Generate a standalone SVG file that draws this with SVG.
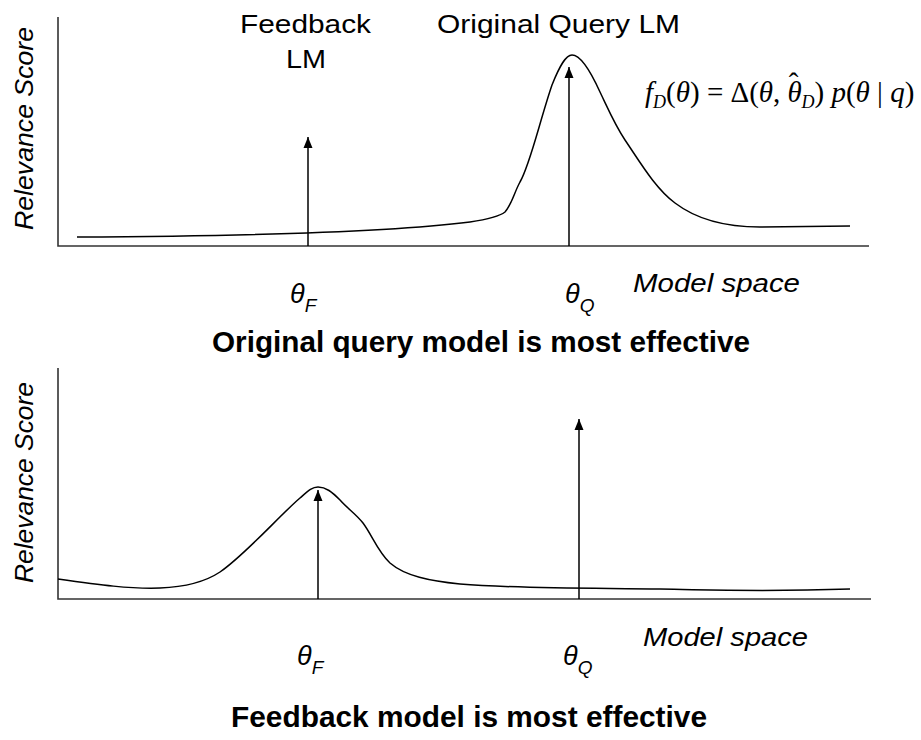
<svg xmlns="http://www.w3.org/2000/svg" width="921" height="740" viewBox="0 0 921 740">
<defs>
<marker id="ah" markerUnits="userSpaceOnUse" markerWidth="12" markerHeight="10" refX="11" refY="5" orient="auto" viewBox="0 0 12 10">
<path d="M0 0.5 L11 5 L0 9.5 Z" fill="#000"/>
</marker>
<style>
.ax{stroke:#333;stroke-width:1.6;fill:none}
.cv{stroke:#000;stroke-width:1.5;fill:none}
.ar{stroke:#000;stroke-width:1.5;fill:none}
.lbl{font-family:"Liberation Sans",Arial,sans-serif;fill:#000}
.it{font-style:italic}
.bd{font-weight:bold}
.fm{font-family:"Liberation Serif","Times New Roman",serif;fill:#000}
</style>
</defs>
<rect width="921" height="740" fill="#fff"/>

<g id="top-panel">
<g id="top-axes">
<path class="ax" d="M58 17 V246 H869"/>
</g>
<g id="top-curve">
<path class="cv" d="M77 237 C250 236,400 231,470 222 C490 219,500 216,505 212 C512 204,514 193,520 182 C530 165,540 120,552 85 C560 65,566 55,572 55 C580 55,590 70,600 92 C610 113,615 125,625 140 C640 162,655 188,675 203 C700 222,730 227,760 227 L850 226"/>
</g>
<text class="lbl it" font-size="26" transform="translate(33,128.5) rotate(-90)" text-anchor="middle" textLength="203" lengthAdjust="spacingAndGlyphs">Relevance Score</text>
<g id="top-feedback-lm">
<text class="lbl" font-size="26" x="240" y="33" textLength="131" lengthAdjust="spacingAndGlyphs">Feedback</text>
<text class="lbl" font-size="26" x="286" y="68" textLength="40" lengthAdjust="spacingAndGlyphs">LM</text>
</g>
<g id="top-query-lm">
<text class="lbl" font-size="26" x="437" y="33" textLength="243" lengthAdjust="spacingAndGlyphs">Original Query LM</text>
</g>
<g id="top-formula">
<text class="fm" font-size="29" x="645" y="102"><tspan font-style="italic">f</tspan><tspan font-style="italic" font-size="18" dy="6">D</tspan><tspan dy="-6">(</tspan><tspan font-style="italic">θ</tspan><tspan>) = Δ(</tspan><tspan font-style="italic">θ</tspan><tspan>, </tspan><tspan font-style="italic">θ</tspan><tspan dx="-13" dy="-9">ˆ</tspan><tspan font-style="italic" font-size="18" dx="3" dy="15">D</tspan><tspan dy="-6">) </tspan><tspan font-style="italic">p</tspan><tspan>(</tspan><tspan font-style="italic">θ</tspan><tspan> | </tspan><tspan font-style="italic">q</tspan><tspan>)</tspan></text>
</g>
<g id="top-theta-f">
<text class="lbl it" x="290" y="303" font-size="27">θ<tspan font-size="19" dy="9">F</tspan></text>
</g>
<g id="top-theta-q">
<text class="lbl it" x="565" y="303" font-size="27">θ<tspan font-size="19" dy="9">Q</tspan></text>
</g>
<text class="lbl it" font-size="26" x="633" y="292" textLength="167" lengthAdjust="spacingAndGlyphs">Model space</text>
<text class="lbl bd" font-size="29" x="212" y="352" textLength="538" lengthAdjust="spacingAndGlyphs">Original query model is most effective</text>
</g>

<g id="bottom-panel">
<g id="bottom-axes">
<path class="ax" d="M58 368 V599 H871"/>
</g>
<g id="bottom-curve">
<path class="cv" d="M58 579 C100 585,130 589,160 588 C185 587,205 582,220 572 C245 555,280 515,300 498 C308 491,312 487,318 487 C326 487,332 492,340 500 C348 509,356 514,363 523 C372 535,378 552,390 563 C405 576,430 581,460 584 C520 589,600 588,660 589 C720 590,760 592,850 589"/>
</g>
<text class="lbl it" font-size="26" transform="translate(33,482.5) rotate(-90)" text-anchor="middle" textLength="201" lengthAdjust="spacingAndGlyphs">Relevance Score</text>
<g id="bottom-theta-f">
<text class="lbl it" x="297" y="665" font-size="27">θ<tspan font-size="19" dy="9">F</tspan></text>
</g>
<g id="bottom-theta-q">
<text class="lbl it" x="563" y="665" font-size="27">θ<tspan font-size="19" dy="9">Q</tspan></text>
</g>
<text class="lbl it" font-size="26" x="643" y="646" textLength="165" lengthAdjust="spacingAndGlyphs">Model space</text>
<text class="lbl bd" font-size="29" x="231" y="727" textLength="476" lengthAdjust="spacingAndGlyphs">Feedback model is most effective</text>
</g>

<g id="connectors">
<path class="ar" d="M308 246 V137" marker-end="url(#ah)"/>
<path class="ar" d="M569 246 V67" marker-end="url(#ah)"/>
<path class="ar" d="M318 599 V490" marker-end="url(#ah)"/>
<path class="ar" d="M579 599 V419" marker-end="url(#ah)"/>
</g>
</svg>
